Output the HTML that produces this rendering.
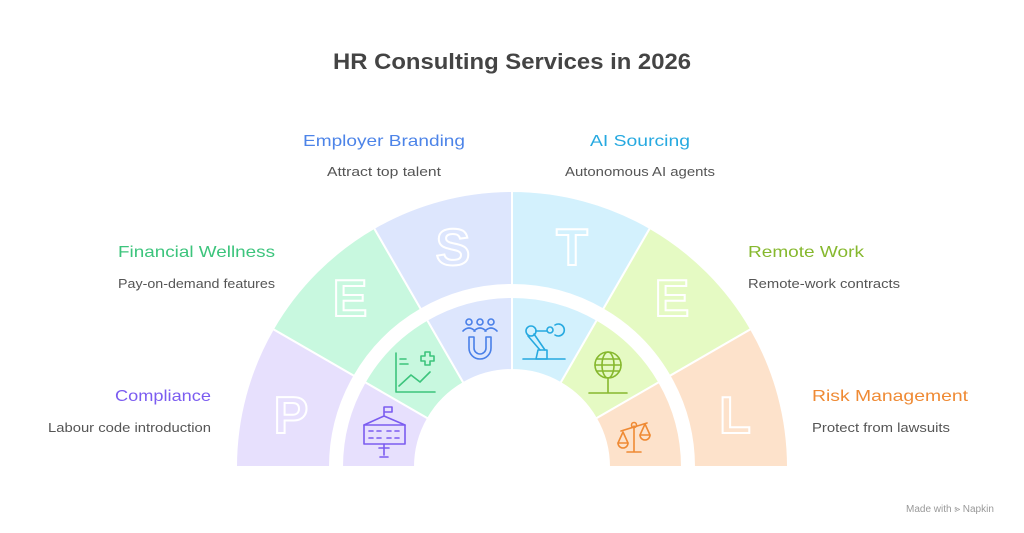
<!DOCTYPE html>
<html><head><meta charset="utf-8"><style>
html,body{margin:0;padding:0;background:#fff;}
svg{display:block;font-family:"Liberation Sans",sans-serif;}
</style></head><body>
<svg width="1024" height="533" viewBox="0 0 1024 533" xmlns="http://www.w3.org/2000/svg">
<rect width="1024" height="533" fill="#fff"/>
<text x="512" y="69" text-anchor="middle" font-size="22" font-weight="bold" fill="#444" textLength="358" lengthAdjust="spacingAndGlyphs">HR Consulting Services in 2026</text>

<g stroke="#fff" stroke-width="2">
<path d="M236,467 A276,276 0 0 1 272.98,329 L354.4,376 A182,182 0 0 0 330,467Z" fill="#e7e0fd"/>
<path d="M272.98,329 A276,276 0 0 1 374,228 L421,309.4 A182,182 0 0 0 354.4,376Z" fill="#c8f8df"/>
<path d="M374,228 A276,276 0 0 1 512,191 L512,285 A182,182 0 0 0 421,309.4Z" fill="#dde6fd"/>
<path d="M512,191 A276,276 0 0 1 650,228 L603,309.4 A182,182 0 0 0 512,285Z" fill="#d3f1fd"/>
<path d="M650,228 A276,276 0 0 1 751,329 L669.6,376 A182,182 0 0 0 603,309.4Z" fill="#e5fac3"/>
<path d="M751,329 A276,276 0 0 1 788,467 L694,467 A182,182 0 0 0 669.6,376Z" fill="#fde2cb"/>

<path d="M342,467 A170,170 0 0 1 364.8,382 L428,418.5 A97,97 0 0 0 415,467Z" fill="#e7e0fd"/>
<path d="M364.8,382 A170,170 0 0 1 427,319.8 L463.5,383 A97,97 0 0 0 428,418.5Z" fill="#c8f8df"/>
<path d="M427,319.8 A170,170 0 0 1 512,297 L512,370 A97,97 0 0 0 463.5,383Z" fill="#dde6fd"/>
<path d="M512,297 A170,170 0 0 1 597,319.8 L560.5,383 A97,97 0 0 0 512,370Z" fill="#d3f1fd"/>
<path d="M597,319.8 A170,170 0 0 1 659.2,382 L596,418.5 A97,97 0 0 0 560.5,383Z" fill="#e5fac3"/>
<path d="M659.2,382 A170,170 0 0 1 682,467 L609,467 A97,97 0 0 0 596,418.5Z" fill="#fde2cb"/>
</g>

<g font-size="52" font-weight="bold" fill="none" stroke="#fff" stroke-width="2" text-anchor="middle">
<text x="291" y="433">P</text>
<text x="350" y="316">E</text>
<text x="453" y="265">S</text>
<text x="572" y="265">T</text>
<text x="672" y="316">E</text>
<text x="735" y="433">L</text>
</g>

<!-- icons -->
<g fill="none" stroke-width="1.6" stroke-linecap="round" stroke-linejoin="round">
<g stroke="#7b5cf0">
<rect x="364" y="425" width="41" height="19"/>
<path d="M364,425 L384,416 L405,425 M384,416 V407 h8 v5 h-8"/>
<path d="M369,431h4M377,431h4M387,431h4M395,431h4M369,438h4M377,438h4M387,438h4M395,438h4"/>
<path d="M384,444 V455 M379,448 h10 M380,457h8"/>
</g>
<g stroke="#3cc47c">
<path d="M396,353 V392 H435 M399,386 L411,375 L420,382 L430,372"/>
<path d="M400,359h6M400,364h8"/>
<path d="M421,356h4v-4h5v4h4v5h-4v4h-5v-4h-4z"/>
</g>
<g stroke="#4a80e8">
<circle cx="469" cy="322" r="3"/><circle cx="480" cy="322" r="3"/><circle cx="491" cy="322" r="3"/>
<path d="M463,331 q6,-6 12,0 M474,331 q6,-6 12,0 M485,331 q6,-6 12,0"/>
<path d="M469,337 V348 a11,11 0 0 0 22,0 V337 h-5 V348 a6,6 0 0 1 -12,0 V337z"/>
</g>
<g stroke="#26a9e0">
<circle cx="531" cy="331" r="5"/><circle cx="550" cy="330" r="3"/>
<path d="M536,331 h11 M555,325 a6,6 0 1 1 0,10"/>
<path d="M528,336 L540,350 M534,334 L545,350"/>
<path d="M538,350 h9 v9 h-11z"/>
<path d="M523,359 h42"/>
</g>
<g stroke="#86b82e">
<circle cx="608" cy="365" r="13"/>
<ellipse cx="608" cy="365" rx="6" ry="13"/>
<path d="M595,365h26M597,359h22M597,371h22M608,378 V392 M589,393 h38"/>
</g>
<g stroke="#ef8a34">
<path d="M634,452 V426 M627,452 h14 M621,431 L647,423"/>
<circle cx="634" cy="425" r="2.5"/>
<path d="M623,432 L618,443 h10z M645,424 L640,435 h10z"/>
<path d="M618,443 a5,5 0 0 0 10,0 M640,435 a5,5 0 0 0 10,0"/>
</g>
</g>

<!-- labels -->
<g font-size="16">
<text x="303" y="146" fill="#4d84e8" textLength="162" lengthAdjust="spacingAndGlyphs">Employer Branding</text>
<text x="590" y="146" fill="#26a9e0" textLength="100" lengthAdjust="spacingAndGlyphs">AI Sourcing</text>
<text x="118" y="257" fill="#3cc47c" textLength="157" lengthAdjust="spacingAndGlyphs">Financial Wellness</text>
<text x="748" y="257" fill="#86b82e" textLength="116" lengthAdjust="spacingAndGlyphs">Remote Work</text>
<text x="115" y="401" fill="#7b5cf0" textLength="96" lengthAdjust="spacingAndGlyphs">Compliance</text>
<text x="812" y="401" fill="#ef8a34" textLength="156" lengthAdjust="spacingAndGlyphs">Risk Management</text>
</g>
<g font-size="13" fill="#555">
<text x="327" y="176" textLength="114" lengthAdjust="spacingAndGlyphs">Attract top talent</text>
<text x="565" y="176" textLength="150" lengthAdjust="spacingAndGlyphs">Autonomous AI agents</text>
<text x="118" y="288" textLength="157" lengthAdjust="spacingAndGlyphs">Pay-on-demand features</text>
<text x="748" y="288" textLength="152" lengthAdjust="spacingAndGlyphs">Remote-work contracts</text>
<text x="48" y="432" textLength="163" lengthAdjust="spacingAndGlyphs">Labour code introduction</text>
<text x="812" y="432" textLength="138" lengthAdjust="spacingAndGlyphs">Protect from lawsuits</text>
</g>
<text x="906" y="512" font-size="10" fill="#999">Made with ⪢ Napkin</text>
</svg>
</body></html>
